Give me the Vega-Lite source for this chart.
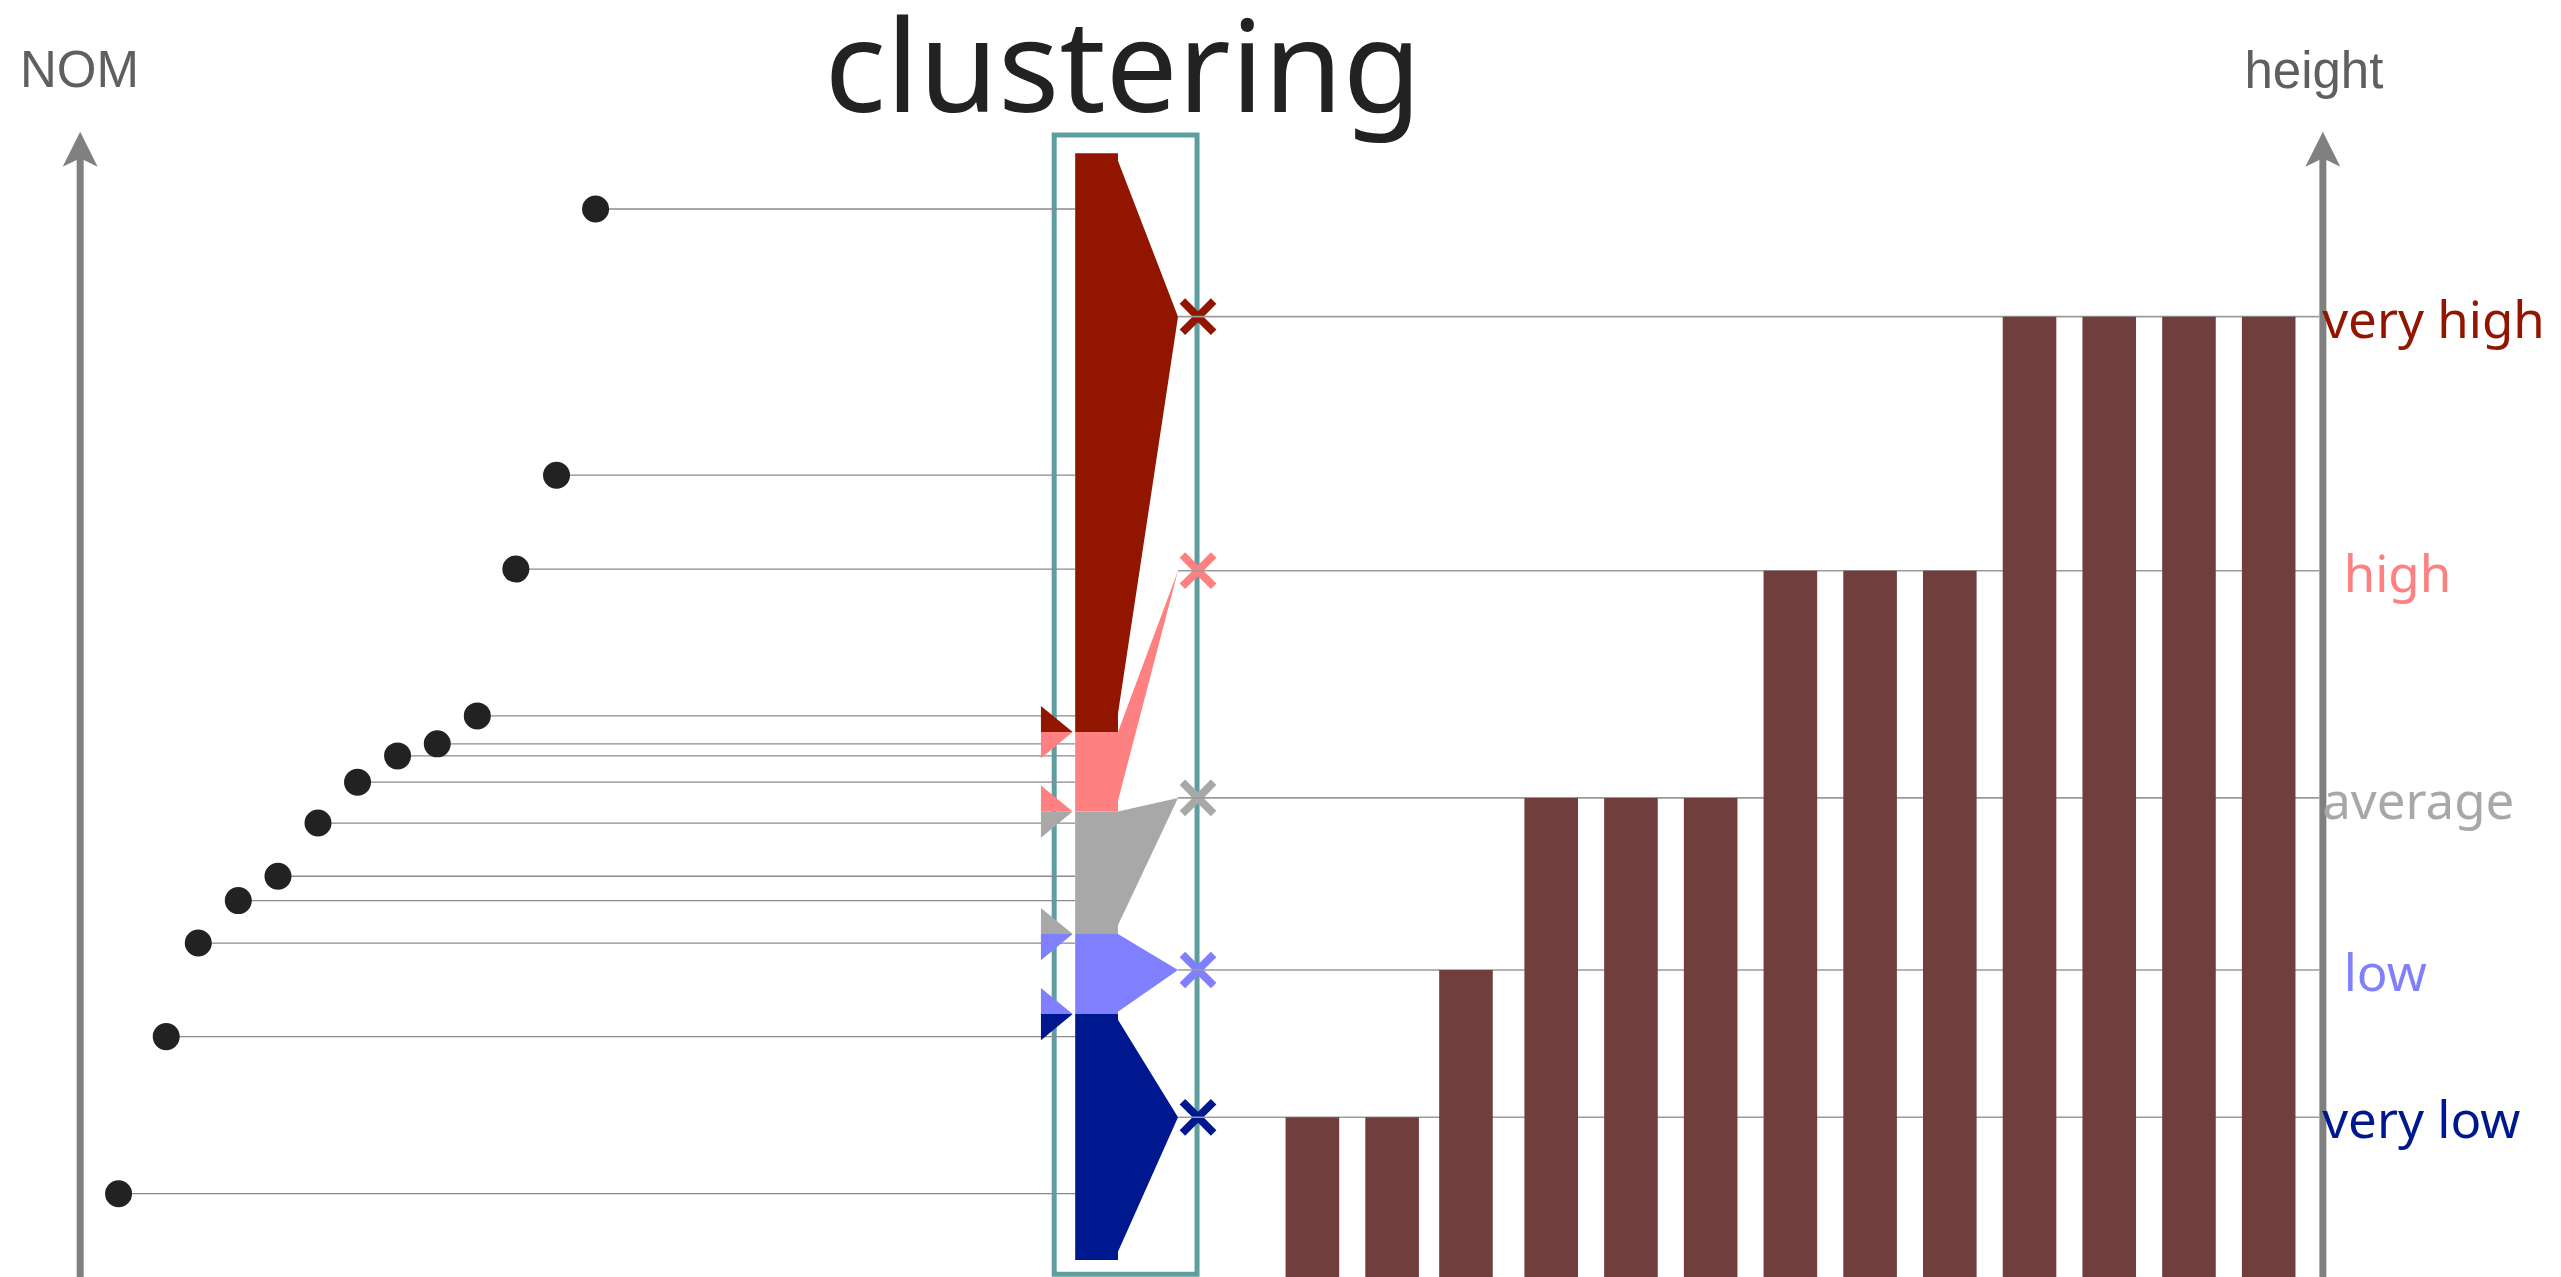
{
  "$schema": "https://vega.github.io/schema/vega-lite/v6.json",
  "width": 2561,
  "height": 1277,
  "autosize": {"type": "none"},
  "padding": 0,
  "background": "white",
  "config": {"view": {"stroke": null}},
  "datasets": {
    "items": [
      {"id": 1, "dotx": 363, "nom": 654, "barx": 1391.4, "cluster": "very high", "height": 588.1},
      {"id": 2, "dotx": 339, "nom": 491, "barx": 1342.4, "cluster": "very high", "height": 588.1},
      {"id": 3, "dotx": 314, "nom": 433.5, "barx": 1293.4, "cluster": "very high", "height": 588.1},
      {"id": 4, "dotx": 290.3, "nom": 343.6, "barx": 1244.4, "cluster": "very high", "height": 588.1},
      {"id": 5, "dotx": 265.7, "nom": 326.5, "barx": 1195.4, "cluster": "high", "height": 432.5},
      {"id": 6, "dotx": 241.3, "nom": 319.1, "barx": 1146.4, "cluster": "high", "height": 432.5},
      {"id": 7, "dotx": 216.7, "nom": 303, "barx": 1097.4, "cluster": "high", "height": 432.5},
      {"id": 8, "dotx": 192.4, "nom": 278, "barx": 1048.4, "cluster": "average", "height": 293.4},
      {"id": 9, "dotx": 167.8, "nom": 245.4, "barx": 999.4, "cluster": "average", "height": 293.4},
      {"id": 10, "dotx": 143.4, "nom": 230.5, "barx": 950.4, "cluster": "average", "height": 293.4},
      {"id": 11, "dotx": 118.8, "nom": 204.5, "barx": 898, "cluster": "low", "height": 188},
      {"id": 12, "dotx": 99.1, "nom": 147.2, "barx": 852.6, "cluster": "very low", "height": 97.8},
      {"id": 13, "dotx": 69.8, "nom": 51, "barx": 803.6, "cluster": "very low", "height": 97.8}
    ],
    "levels": [
      {"cluster": "very high", "level": 588.1},
      {"cluster": "high", "level": 432.5},
      {"cluster": "average", "level": 293.4},
      {"cluster": "low", "level": 188},
      {"cluster": "very low", "level": 97.8}
    ],
    "poly": [
      {"cluster": "very high", "k": 1, "px": 657.8, "py": 688.1},
      {"cluster": "very high", "k": 2, "px": 684.1, "py": 688.1},
      {"cluster": "very high", "k": 3, "px": 684.1, "py": 683.6},
      {"cluster": "very high", "k": 4, "px": 721, "py": 588.1},
      {"cluster": "very high", "k": 5, "px": 684.1, "py": 345},
      {"cluster": "very high", "k": 6, "px": 684.1, "py": 333.7},
      {"cluster": "very high", "k": 7, "px": 657.8, "py": 333.7},
      {"cluster": "high", "k": 1, "px": 657.8, "py": 333.7},
      {"cluster": "high", "k": 2, "px": 684.1, "py": 333.7},
      {"cluster": "high", "k": 3, "px": 721, "py": 432.5},
      {"cluster": "high", "k": 4, "px": 684.1, "py": 291.7},
      {"cluster": "high", "k": 5, "px": 684.1, "py": 285},
      {"cluster": "high", "k": 6, "px": 657.8, "py": 285},
      {"cluster": "average", "k": 1, "px": 657.8, "py": 285},
      {"cluster": "average", "k": 2, "px": 684.1, "py": 285},
      {"cluster": "average", "k": 3, "px": 721, "py": 293.4},
      {"cluster": "average", "k": 4, "px": 684.1, "py": 215.4},
      {"cluster": "average", "k": 5, "px": 684.1, "py": 210},
      {"cluster": "average", "k": 6, "px": 657.8, "py": 210},
      {"cluster": "low", "k": 1, "px": 657.8, "py": 210},
      {"cluster": "low", "k": 2, "px": 684.1, "py": 210},
      {"cluster": "low", "k": 3, "px": 721, "py": 188},
      {"cluster": "low", "k": 4, "px": 684.1, "py": 162.4},
      {"cluster": "low", "k": 5, "px": 684.1, "py": 161},
      {"cluster": "low", "k": 6, "px": 657.8, "py": 161},
      {"cluster": "very low", "k": 1, "px": 657.8, "py": 161},
      {"cluster": "very low", "k": 2, "px": 684.1, "py": 161},
      {"cluster": "very low", "k": 3, "px": 684.1, "py": 157.5},
      {"cluster": "very low", "k": 4, "px": 721, "py": 97.8},
      {"cluster": "very low", "k": 5, "px": 684.1, "py": 15.4},
      {"cluster": "very low", "k": 6, "px": 684.1, "py": 10.4},
      {"cluster": "very low", "k": 7, "px": 657.8, "py": 10.4}
    ],
    "bounds": [
      {"b": 333.7, "cluster": "very high", "part": "above"},
      {"b": 333.7, "cluster": "high", "part": "below"},
      {"b": 285, "cluster": "high", "part": "above"},
      {"b": 285, "cluster": "average", "part": "below"},
      {"b": 210, "cluster": "average", "part": "above"},
      {"b": 210, "cluster": "low", "part": "below"},
      {"b": 161, "cluster": "low", "part": "above"},
      {"b": 161, "cluster": "very low", "part": "below"}
    ],
    "axes": [
      {"name": "NOM", "ax": 46.2},
      {"name": "height", "ax": 1424.7}
    ]
  },
  "layer": [
    {
      "data": {"values": [{}]},
      "mark": {"type": "rect", "fill": null, "fillOpacity": 0, "stroke": "#5F9EA0", "strokeWidth": 5},
      "encoding": {
        "x": {"datum": 644.9, "type": "quantitative", "scale": {"domain": [0, 1568], "nice": false, "zero": false}, "axis": null},
        "x2": {"datum": 732.7},
        "y": {"datum": 1.7, "type": "quantitative", "scale": {"domain": [0, 782], "nice": false, "zero": false}, "axis": null},
        "y2": {"datum": 699.3}
      }
    },
    {
      "data": {"name": "items"},
      "mark": {"type": "rule", "color": "#8a8a8a", "strokeWidth": 1.3},
      "encoding": {
        "x": {"field": "dotx", "type": "quantitative", "scale": {"domain": [0, 1568], "nice": false, "zero": false}, "axis": null},
        "x2": {"datum": 657.8},
        "y": {"field": "nom", "type": "quantitative", "scale": {"domain": [0, 782], "nice": false, "zero": false}, "axis": null}
      }
    },
    {
      "data": {"name": "items"},
      "mark": {"type": "point", "filled": true, "color": "#222222", "opacity": 1, "size": 730, "shape": "circle"},
      "encoding": {
        "x": {"field": "dotx", "type": "quantitative", "scale": {"domain": [0, 1568], "nice": false, "zero": false}, "axis": null},
        "y": {"field": "nom", "type": "quantitative", "scale": {"domain": [0, 782], "nice": false, "zero": false}, "axis": null}
      }
    },
    {
      "data": {"name": "poly"},
      "mark": {"type": "line", "filled": true, "strokeWidth": 0, "interpolate": "linear"},
      "encoding": {
        "x": {"field": "px", "type": "quantitative", "scale": {"domain": [0, 1568], "nice": false, "zero": false}, "axis": null},
        "y": {"field": "py", "type": "quantitative", "scale": {"domain": [0, 782], "nice": false, "zero": false}, "axis": null},
        "order": {"field": "k", "type": "quantitative"},
        "color": {"field": "cluster", "type": "nominal", "scale": {"domain": ["very high", "high", "average", "low", "very low"], "range": ["#921500", "#FF8080", "#A8A8A8", "#8080FF", "#00188F"]}, "legend": null}
      }
    },
    {
      "data": {"name": "bounds"},
      "mark": {"type": "point", "filled": true, "opacity": 1, "size": 1005, "strokeWidth": 0},
      "encoding": {
        "x": {"datum": 646.5, "type": "quantitative", "scale": {"domain": [0, 1568], "nice": false, "zero": false}, "axis": null},
        "y": {"field": "b", "type": "quantitative", "scale": {"domain": [0, 782], "nice": false, "zero": false}, "axis": null},
        "shape": {"field": "part", "type": "nominal", "scale": {"domain": ["above", "below"], "range": ["M-1,-1.65L1,0L-1,0Z", "M-1,0L1,0L-1,1.65Z"]}, "legend": null},
        "color": {"field": "cluster", "type": "nominal", "scale": {"domain": ["very high", "high", "average", "low", "very low"], "range": ["#921500", "#FF8080", "#A8A8A8", "#8080FF", "#00188F"]}, "legend": null}
      }
    },
    {
      "data": {"name": "levels"},
      "mark": {"type": "point", "filled": true, "opacity": 1, "size": 1350, "strokeWidth": 0, "shape": "M-1,-0.7L-0.7,-1L0,-0.3L0.7,-1L1,-0.7L0.3,0L1,0.7L0.7,1L0,0.3L-0.7,1L-1,0.7L-0.3,0Z"},
      "encoding": {
        "x": {"datum": 733.3, "type": "quantitative", "scale": {"domain": [0, 1568], "nice": false, "zero": false}, "axis": null},
        "y": {"field": "level", "type": "quantitative", "scale": {"domain": [0, 782], "nice": false, "zero": false}, "axis": null},
        "color": {"field": "cluster", "type": "nominal", "scale": {"domain": ["very high", "high", "average", "low", "very low"], "range": ["#921500", "#FF8080", "#A8A8A8", "#8080FF", "#00188F"]}, "legend": null}
      }
    },
    {
      "data": {"name": "levels"},
      "mark": {"type": "rule", "color": "#9a9a9a", "strokeWidth": 1.6},
      "encoding": {
        "x": {"datum": 721, "type": "quantitative", "scale": {"domain": [0, 1568], "nice": false, "zero": false}, "axis": null},
        "x2": {"datum": 1422.4},
        "y": {"field": "level", "type": "quantitative", "scale": {"domain": [0, 782], "nice": false, "zero": false}, "axis": null}
      }
    },
    {
      "data": {"name": "items"},
      "mark": {"type": "bar", "color": "#703E3C", "width": 53.6},
      "encoding": {
        "x": {"field": "barx", "type": "quantitative", "scale": {"domain": [0, 1568], "nice": false, "zero": false}, "axis": null},
        "y": {"field": "height", "type": "quantitative", "scale": {"domain": [0, 782], "nice": false, "zero": false}, "axis": null},
        "y2": {"datum": 0}
      }
    },
    {
      "data": {"name": "axes"},
      "mark": {"type": "rule", "color": "#808080", "strokeWidth": 7},
      "encoding": {
        "x": {"field": "ax", "type": "quantitative", "scale": {"domain": [0, 1568], "nice": false, "zero": false}, "axis": null},
        "y": {"datum": 0, "type": "quantitative", "scale": {"domain": [0, 782], "nice": false, "zero": false}, "axis": null},
        "y2": {"datum": 686}
      }
    },
    {
      "data": {"name": "axes"},
      "mark": {"type": "point", "filled": true, "opacity": 1, "color": "#808080", "size": 1225, "strokeWidth": 0, "shape": "M0,-1L1,1L0,0.52L-1,1Z"},
      "encoding": {
        "x": {"field": "ax", "type": "quantitative", "scale": {"domain": [0, 1568], "nice": false, "zero": false}, "axis": null},
        "y": {"datum": 690.6, "type": "quantitative", "scale": {"domain": [0, 782], "nice": false, "zero": false}, "axis": null}
      }
    },
    {
      "data": {"name": "levels"},
      "transform": [{"filter": "datum.cluster === 'very high' || datum.cluster === 'average' || datum.cluster === 'very low'"}],
      "mark": {"type": "text", "font": "Noto Sans", "fontSize": 51, "align": "left", "baseline": "alphabetic", "dy": 21},
      "encoding": {
        "x": {"datum": 1424.3, "type": "quantitative", "scale": {"domain": [0, 1568], "nice": false, "zero": false}, "axis": null},
        "y": {"field": "level", "type": "quantitative", "scale": {"domain": [0, 782], "nice": false, "zero": false}, "axis": null},
        "text": {"field": "cluster"},
        "color": {"field": "cluster", "type": "nominal", "scale": {"domain": ["very high", "high", "average", "low", "very low"], "range": ["#921500", "#FF8080", "#A8A8A8", "#8080FF", "#00188F"]}, "legend": null}
      }
    },
    {
      "data": {"name": "levels"},
      "transform": [{"filter": "datum.cluster === 'high' || datum.cluster === 'low'"}],
      "mark": {"type": "text", "font": "Noto Sans", "fontSize": 51, "align": "left", "baseline": "alphabetic", "dy": 21},
      "encoding": {
        "x": {"datum": 1437.5, "type": "quantitative", "scale": {"domain": [0, 1568], "nice": false, "zero": false}, "axis": null},
        "y": {"field": "level", "type": "quantitative", "scale": {"domain": [0, 782], "nice": false, "zero": false}, "axis": null},
        "text": {"field": "cluster"},
        "color": {"field": "cluster", "type": "nominal", "scale": {"domain": ["very high", "high", "average", "low", "very low"], "range": ["#921500", "#FF8080", "#A8A8A8", "#8080FF", "#00188F"]}, "legend": null}
      }
    },
    {
      "data": {"values": [{}]},
      "mark": {"type": "text", "text": "clustering", "font": "Noto Sans", "fontSize": 128, "color": "#222222", "align": "center", "baseline": "alphabetic"},
      "encoding": {
        "x": {"datum": 687.2, "type": "quantitative", "scale": {"domain": [0, 1568], "nice": false, "zero": false}, "axis": null},
        "y": {"datum": 713.2, "type": "quantitative", "scale": {"domain": [0, 782], "nice": false, "zero": false}, "axis": null}
      }
    },
    {
      "data": {"values": [{}]},
      "mark": {"type": "text", "text": "NOM", "font": "Liberation Sans", "fontSize": 51, "color": "#5f5f5f", "align": "left", "baseline": "alphabetic"},
      "encoding": {
        "x": {"datum": 9.2, "type": "quantitative", "scale": {"domain": [0, 1568], "nice": false, "zero": false}, "axis": null},
        "y": {"datum": 728.5, "type": "quantitative", "scale": {"domain": [0, 782], "nice": false, "zero": false}, "axis": null}
      }
    },
    {
      "data": {"values": [{}]},
      "mark": {"type": "text", "text": "height", "font": "Liberation Sans", "fontSize": 51, "color": "#5f5f5f", "align": "left", "baseline": "alphabetic"},
      "encoding": {
        "x": {"datum": 1376.5, "type": "quantitative", "scale": {"domain": [0, 1568], "nice": false, "zero": false}, "axis": null},
        "y": {"datum": 727.9, "type": "quantitative", "scale": {"domain": [0, 782], "nice": false, "zero": false}, "axis": null}
      }
    }
  ]
}
